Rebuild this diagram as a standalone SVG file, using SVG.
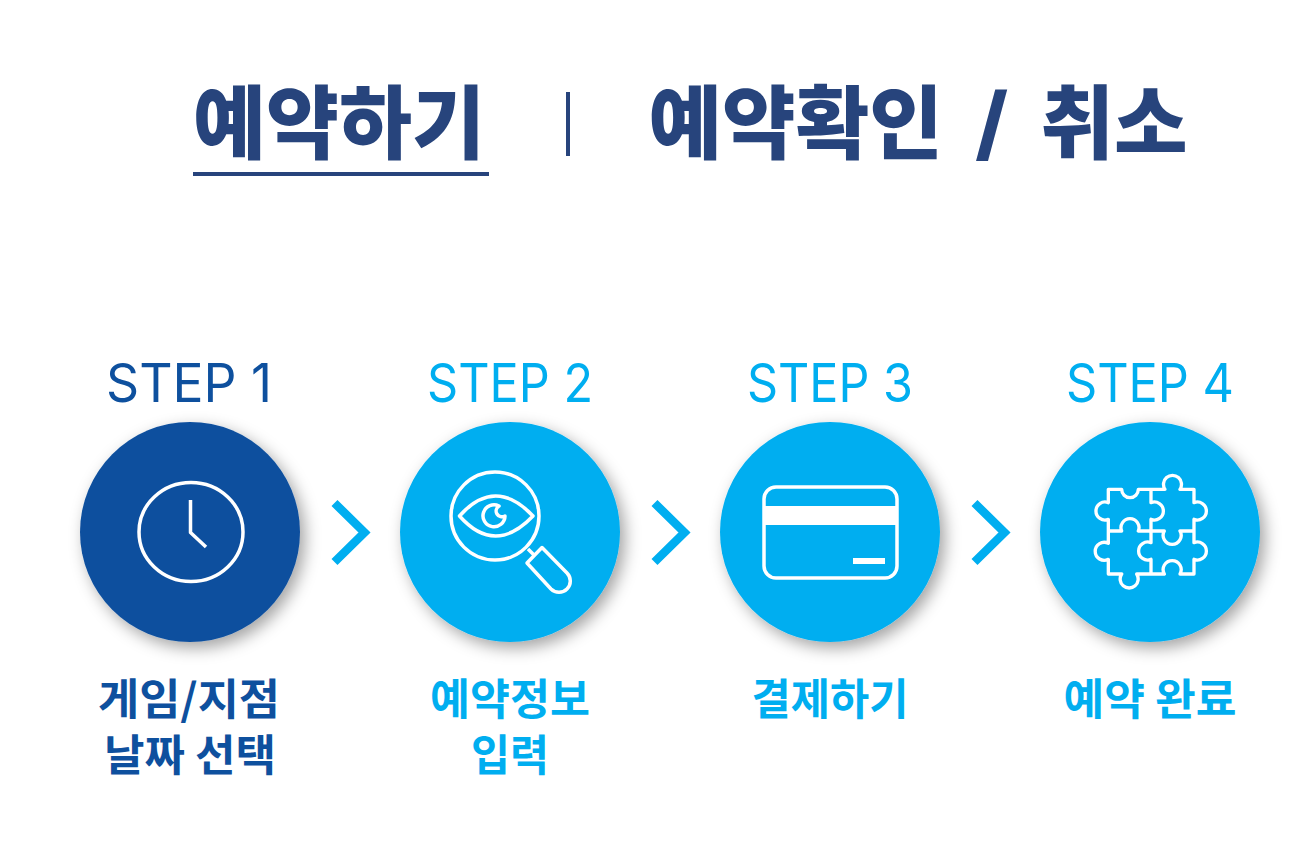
<svg xmlns="http://www.w3.org/2000/svg" width="1308" height="858" viewBox="0 0 1308 858">
<style>
text{font-family:"Noto Sans CJK KR","Noto Sans",sans-serif;text-anchor:middle}
.title{font-size:80px;font-weight:900;fill:#27447c}
.slash{font-family:Inter,"Noto Sans",sans-serif;font-size:82px;font-weight:800}
.step{font-size:53px;font-weight:400;font-family:Inter,"Noto Sans",sans-serif}
.lab{font-size:43px;font-weight:700}
.dark{fill:#0e509e}.light{fill:#00aef0}
.ic{fill:none;stroke:#fff;stroke-width:3.500;stroke-linejoin:round}
.chev{fill:none;stroke:#00aef0;stroke-width:8.500}
</style>
<defs>
<filter id="sh" x="-20%" y="-20%" width="150%" height="150%"><feDropShadow dx="5" dy="6" stdDeviation="8" flood-color="#000" flood-opacity=".36"/></filter>
<filter id="soft"><feGaussianBlur stdDeviation=".7"/></filter>
</defs>
<rect width="1308" height="858" fill="#fff"/>
<g id="tabs">
<text class="title" x="339" y="152" textLength="292" lengthAdjust="spacingAndGlyphs">예약하기</text>
<rect x="193" y="172" width="296" height="4" fill="#27447c"/>
<rect x="566" y="92" width="4" height="64" fill="#27447c"/>
<text class="title" x="918" y="152" word-spacing="14">예약확인 <tspan class="slash">/</tspan> 취소</text>
</g>
<g id="connectors">
<path class="chev" d="M334.500 503L364.500 532.500L334.500 562"/>
<path class="chev" d="M654.500 503L684.500 532.500L654.500 562"/>
<path class="chev" d="M974.500 503L1004.500 532.500L974.500 562"/>
</g>
<g id="step1">
<text class="step dark" x="189" y="402" textLength="166" lengthAdjust="spacingAndGlyphs">STEP 1</text>
<circle cx="190" cy="532" r="110" fill="#0e509e" filter="url(#sh)"/>
<g class="ic" filter="url(#soft)"><ellipse cx="191" cy="532" rx="52" ry="49.500"/><path d="M190.500 500V532.500L206 547"/></g>
<text class="lab dark" x="189" y="715" textLength="182" lengthAdjust="spacingAndGlyphs">게임/지점</text>
<text class="lab dark" x="190" y="771" textLength="172" lengthAdjust="spacingAndGlyphs">날짜 선택</text>
</g>
<g id="step2">
<text class="step light" x="510" y="402" textLength="166" lengthAdjust="spacingAndGlyphs">STEP 2</text>
<circle cx="510" cy="532" r="110" fill="#00aef0" filter="url(#sh)"/>
<g class="ic" filter="url(#soft)"><circle cx="495" cy="516" r="44"/><path d="M459.500 516Q495 476 533 516Q495 556 459.500 516Z"/><path d="M499 506A11 11 0 1 0 505 516A5.500 5.500 0 0 1 499 506Z"/><path d="M528 549L534 555M542 547.500L567 573A11 11 0 0 1 551 589L527 563Z"/></g>
<text class="lab light" x="510" y="715" textLength="160" lengthAdjust="spacingAndGlyphs">예약정보</text>
<text class="lab light" x="510" y="771" textLength="78" lengthAdjust="spacingAndGlyphs">입력</text>
</g>
<g id="step3">
<text class="step light" x="830" y="402" textLength="166" lengthAdjust="spacingAndGlyphs">STEP 3</text>
<circle cx="830" cy="532" r="110" fill="#00aef0" filter="url(#sh)"/>
<g filter="url(#soft)"><rect class="ic" x="764" y="487" width="133" height="91" rx="12"/><rect x="763" y="506" width="135" height="19" fill="#fff"/><rect x="853" y="558" width="32" height="6" fill="#fff"/></g>
<text class="lab light" x="830" y="715" textLength="157" lengthAdjust="spacingAndGlyphs">결제하기</text>
</g>
<g id="step4">
<text class="step light" x="1150" y="402" textLength="168" lengthAdjust="spacingAndGlyphs">STEP 4</text>
<circle cx="1150" cy="532" r="110" fill="#00aef0" filter="url(#sh)"/>
<g filter="url(#soft)" transform="translate(1070 460) scale(.3333)"><path fill="none" stroke="#fff" stroke-width="10" stroke-linejoin="round" d="M115 88H155A25 25 0 0 0 205 88H285A27 27 0 1 1 330 88H372V128A27 27 0 1 1 372 178V248A27 27 0 1 1 372 298V342H330A27 27 0 1 0 283 342H200A27 27 0 1 1 155 342H115V298A27 27 0 1 1 115 250V178A27 27 0 1 1 115 128Z M243 88V128A27 27 0 1 1 243 178V248A27 27 0 1 0 243 298V342 M115 213H155A27 27 0 1 1 205 213H283A27 27 0 1 0 330 213H372"/></g>
<text class="lab light" x="1150" y="715" textLength="173" lengthAdjust="spacingAndGlyphs">예약 완료</text>
</g>
</svg>
